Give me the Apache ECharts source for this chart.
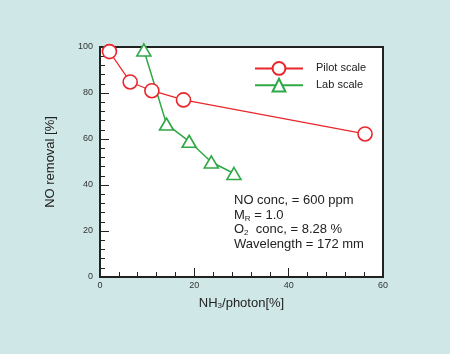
<!DOCTYPE html>
<html><head><meta charset="utf-8">
<script src="https://cdn.jsdelivr.net/npm/echarts@6/dist/echarts.min.js"></script>
<style>html,body{margin:0;padding:0;background:#d0e7e7;}#c{width:450px;height:354px;}</style>
</head><body><div id="c"></div>
<script>
const pilotX = [2.0, 6.4, 11.0, 17.7, 56.2];
const pilotY = [98, 84.8, 81, 77, 62.2];
const labX = [9.3, 14.1, 18.9, 23.6, 28.4];
const labY = [98.7, 66.5, 59, 50, 45];
const xTicks = [0, 20, 40, 60];
const yTicks = [0, 20, 40, 60, 80, 100];
const notes = ['NO conc, = 600 ppm', 'M_R = 1.0', 'O_2  conc, = 8.28 %', 'Wavelength = 172 mm'];

const RED = '#e8262b', GREEN = '#2fa846';
const chart = echarts.init(document.getElementById('c'));
function noteText(s){
  const m = s.match(/^(.*?)_(\w)(.*)$/);
  if(!m) return '{a|'+s+'}';
  return '{a|'+m[1]+'}{s|'+m[2]+'}{a|'+m[3]+'}';
}
chart.setOption({
  backgroundColor: '#d0e7e7',
  animation: false,
  grid: {left: 100, top: 47, width: 283, height: 230, show: true, backgroundColor: '#fff', borderColor: '#222', borderWidth: 2},
  legend: {
    left: 249, top: 56, orient: 'vertical', itemWidth: 48, itemHeight: 16, itemGap: 2,
    textStyle: {fontSize: 11, color: '#222', fontFamily: 'Liberation Sans', padding: [0,0,0,8]},
    data: ['Pilot scale', 'Lab scale']
  },
  xAxis: {
    type: 'value', min: 0, max: 60, interval: 20,
    name: 'NH{s|3}/photon[%]', nameLocation: 'middle', nameGap: 19,
    nameTextStyle: {fontSize: 13, color: '#222', fontFamily: 'Liberation Sans', rich: {s: {fontSize: 8, verticalAlign: 'bottom', padding: [6,0,0,0]}}},
    axisLine: {lineStyle: {color: '#222', width: 2}},
    axisTick: {inside: true, length: 9, lineStyle: {color: '#222', width: 1}},
    minorTick: {show: true, splitNumber: 5, length: 5, lineStyle: {color: '#222', width: 1}},
    axisLabel: {fontSize: 9, color: '#333', margin: 4, fontFamily: 'Liberation Sans',
      formatter: v => xTicks.includes(v) ? String(v) : ''},
    splitLine: {show: false}
  },
  yAxis: {
    type: 'value', min: 0, max: 100, interval: 20,
    name: 'NO removal [%]', nameLocation: 'middle', nameGap: 43, nameRotate: 90,
    nameTextStyle: {fontSize: 13, color: '#222', fontFamily: 'Liberation Sans'},
    axisLine: {lineStyle: {color: '#222', width: 2}},
    axisTick: {inside: true, length: 9, lineStyle: {color: '#222', width: 1}},
    minorTick: {show: true, splitNumber: 5, length: 5, lineStyle: {color: '#222', width: 1}},
    axisLabel: {fontSize: 9, color: '#333', margin: 7, fontFamily: 'Liberation Sans',
      formatter: v => yTicks.includes(v) ? String(v) : ''},
    splitLine: {show: false}
  },
  graphic: notes.map((s, i) => ({
    type: 'text', left: 234, top: 194 + i * 14.5,
    style: {text: noteText(s), fill: '#222',
      rich: {a: {fontSize: 13, fontFamily: 'Liberation Sans', fill: '#222'},
             s: {fontSize: 8, fontFamily: 'Liberation Sans', fill: '#222', verticalAlign: 'bottom', padding: [7,0,0,0]}}}
  })),
  series: [
    {name: 'Pilot scale', type: 'line', data: pilotX.map((x, i) => [x, pilotY[i]]),
     symbol: 'circle', symbolSize: 14, itemStyle: {color: '#fff', borderColor: RED, borderWidth: 1.6},
     lineStyle: {color: RED, width: 1.2}, color: RED},
    {name: 'Lab scale', type: 'line', data: labX.map((x, i) => [x, labY[i]]),
     symbol: 'triangle', symbolSize: [14, 12], itemStyle: {color: '#fff', borderColor: GREEN, borderWidth: 1.6},
     lineStyle: {color: GREEN, width: 1.5}, color: GREEN}
  ]
});
</script></body></html>
